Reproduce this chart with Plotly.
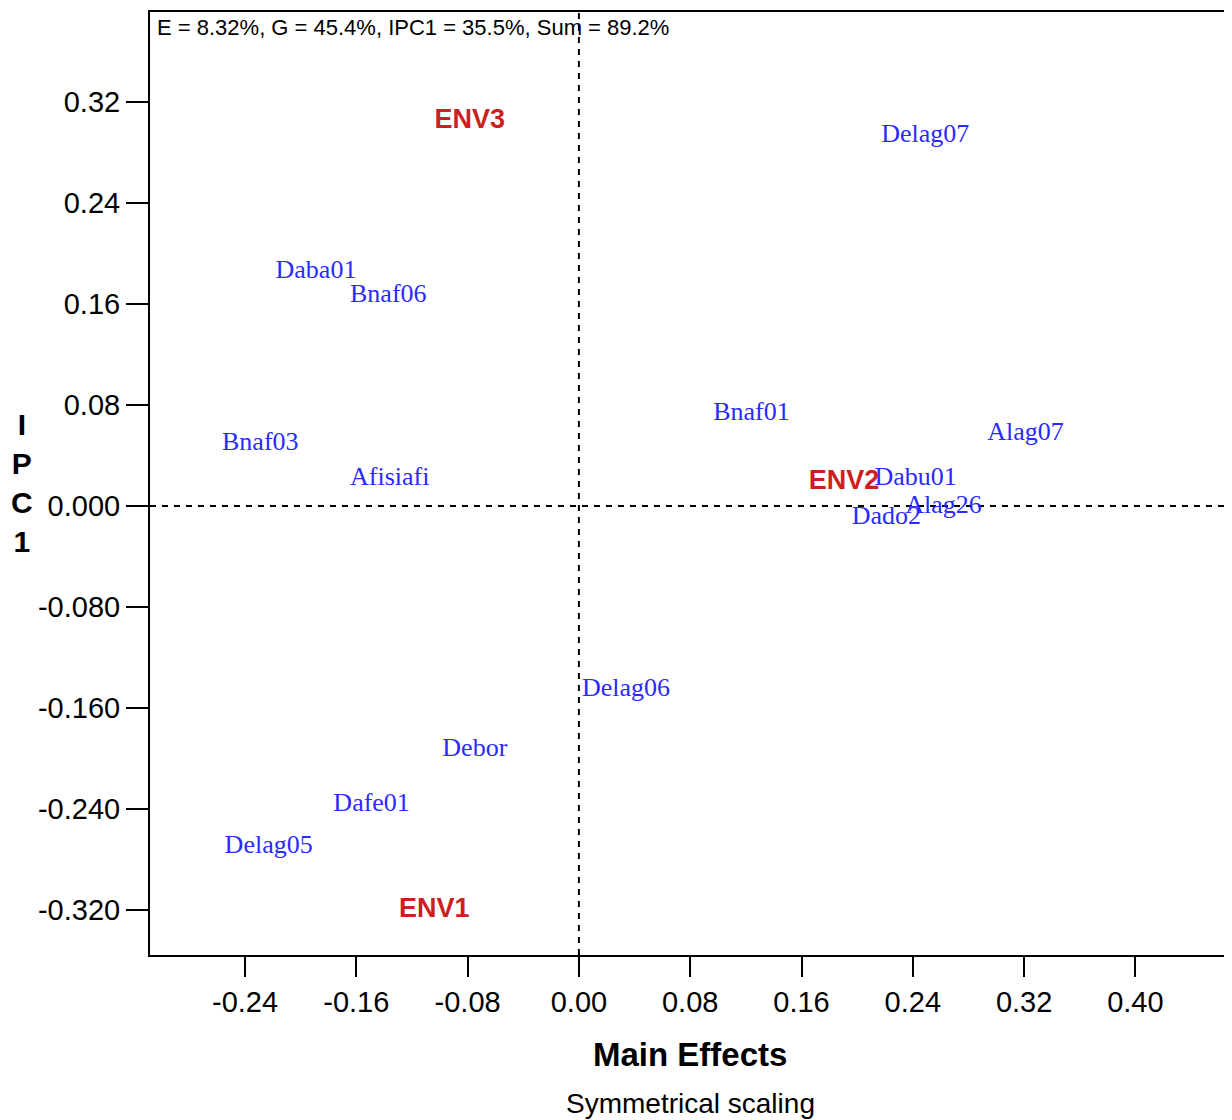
import plotly.graph_objects as go

# Genotypes (blue labels)
gen_names = ["Delag07", "Daba01", "Bnaf06", "Bnaf01", "Alag07", "Bnaf03", "Afisiafi",
             "Dabu01", "Alag26", "Dado2", "Delag06", "Debor", "Dafe01", "Delag05"]
gen_x = [0.249, -0.189, -0.137, 0.124, 0.321, -0.229, -0.136,
         0.242, 0.262, 0.221, 0.0338, -0.0748, -0.149, -0.223]
gen_y = [0.2935, 0.186, 0.167, 0.0736, 0.0578, 0.0498, 0.0214,
         0.0214, -0.0008, -0.0095, -0.1456, -0.193, -0.2365, -0.2698]

# Environments (red labels)
env_names = ["ENV3", "ENV2", "ENV1"]
env_x = [-0.0784, 0.1905, -0.104]
env_y = [0.3046, 0.019, -0.3204]

x_ticks = [-0.24, -0.16, -0.08, 0.00, 0.08, 0.16, 0.24, 0.32, 0.40]
x_tick_text = ["-0.24", "-0.16", "-0.08", "0.00", "0.08", "0.16", "0.24", "0.32", "0.40"]
y_ticks = [0.32, 0.24, 0.16, 0.08, 0.0, -0.08, -0.16, -0.24, -0.32]
y_tick_text = ["0.32", "0.24", "0.16", "0.08", "0.000", "-0.080", "-0.160", "-0.240", "-0.320"]

x_range = [-0.3083, 0.468]
y_range = [-0.356, 0.3916]

# page offset of the figure inside the browser (body margin)
OFF = 8
L, R, T, B = 150 - OFF, 1232 - (1230 - OFF), 10 - OFF, 1120 - (955 - OFF)
PW = 1232 - L - R
PH = 1120 - T - B


def px_x(px):
    return (px - OFF - L) / PW


def px_y(py):
    return (1120 - B - (py - OFF)) / PH


fig = go.Figure()

# reference lines
fig.add_trace(go.Scatter(x=[0, 0], y=y_range, mode="lines",
                         line=dict(color="black", width=2, dash="6px,6px"),
                         hoverinfo="skip", showlegend=False))
fig.add_trace(go.Scatter(x=x_range, y=[0, 0], mode="lines",
                         line=dict(color="black", width=2, dash="6px,6px"),
                         hoverinfo="skip", showlegend=False))

fig.add_trace(go.Scatter(x=gen_x, y=gen_y, mode="text", text=gen_names,
                         textposition="middle center",
                         textfont=dict(family="Liberation Serif, Times New Roman, serif",
                                       size=26, color="#2a2aff"),
                         showlegend=False))
fig.add_trace(go.Scatter(x=env_x, y=env_y, mode="text", text=["<b>%s</b>" % n for n in env_names],
                         textposition="middle center",
                         textfont=dict(family="Liberation Sans, Arial, sans-serif",
                                       size=27, color="#cc1f1f"),
                         showlegend=False))

axis_font = dict(family="Liberation Sans, Arial, sans-serif", size=29, color="black")

fig.update_layout(
    width=1232, height=1120,
    margin=dict(l=L, r=R, t=T, b=B),
    paper_bgcolor="white", plot_bgcolor="white",
    xaxis=dict(range=x_range, tickvals=x_ticks, ticktext=x_tick_text,
               showgrid=False, zeroline=False, showline=True, linecolor="black",
               linewidth=2, mirror=True, ticks="outside", ticklen=20, tickwidth=2,
               tickcolor="black", tickfont=axis_font),
    yaxis=dict(range=y_range, tickvals=y_ticks, ticktext=y_tick_text,
               showgrid=False, zeroline=False, showline=True, linecolor="black",
               linewidth=2, mirror=True, ticks="outside", ticklen=22, tickwidth=2,
               tickcolor="black", tickfont=axis_font),
    annotations=[
        dict(text="E = 8.32%, G = 45.4%, IPC1 = 35.5%, Sum = 89.2%",
             xref="paper", yref="paper", x=px_x(155), y=px_y(11), xanchor="left", yanchor="top",
             showarrow=False,
             font=dict(family="Liberation Sans, Arial, sans-serif", size=22, color="black")),
        dict(text="<b>Main Effects</b>", xref="paper", yref="paper",
             x=px_x(690), y=px_y(1055), xanchor="center", yanchor="middle",
             showarrow=False,
             font=dict(family="Liberation Sans, Arial, sans-serif", size=33, color="black")),
        dict(text="Symmetrical scaling", xref="paper", yref="paper",
             x=px_x(690), y=px_y(1104), xanchor="center", yanchor="middle",
             showarrow=False,
             font=dict(family="Liberation Sans, Arial, sans-serif", size=28, color="black")),
        dict(text="<b>I<br>P<br>C<br>1</b>", xref="paper", yref="paper",
             x=px_x(22), y=px_y(482), xanchor="center", yanchor="middle",
             showarrow=False, align="center",
             font=dict(family="Liberation Sans, Arial, sans-serif", size=30, color="black")),
    ],
)

fig.write_html("out.html")
